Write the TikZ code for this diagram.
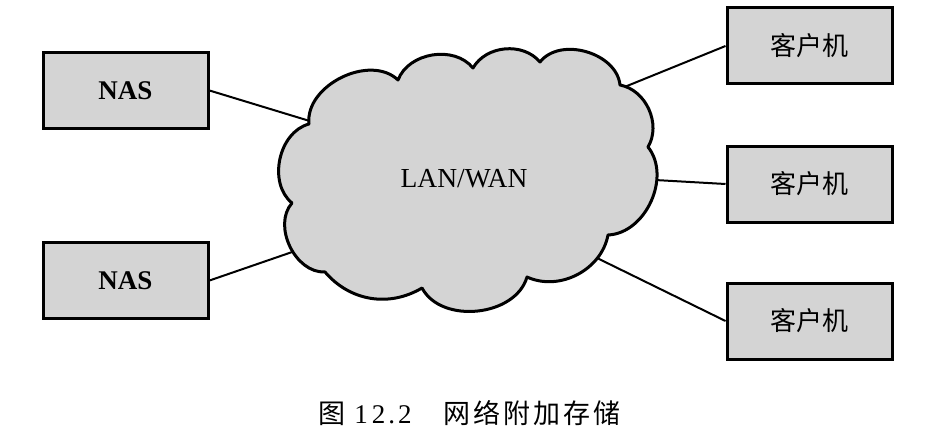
\documentclass[tikz,border=0pt]{standalone}
\usepackage{fontspec}
\setmainfont{Liberation Serif}
\newfontfamily\cjk{Noto Sans CJK SC}
\usetikzlibrary{positioning}

\begin{document}
\begin{tikzpicture}[x=1pt,y=1pt,
  box/.style={draw,line width=3pt,fill=black!17,minimum width=165pt,minimum height=76pt,inner sep=0pt},
  nas/.style={box,font=\fontsize{27}{30}\selectfont\bfseries},
  client/.style={box,font=\fontsize{26}{30}\selectfont\cjk},
  link/.style={line width=2pt},
  cloudline/.style={line width=3pt,line join=round,fill=black!17}]
\useasboundingbox (0,0) rectangle (936,440);
% storage boxes on the left
\node[nas] (nasA) at (125.5,349.5) {NAS};
\node[nas,below=111pt of nasA] (nasB) {NAS};
% client boxes on the right
\node[client] (cliA) at (809.5,394) {客户机};
\node[client,below=59pt of cliA] (cliB) {客户机};
\node[client,below=58pt of cliB] (cliC) {客户机};
% cloud outline, indents
\coordinate (pA) at (309,316);
\coordinate (pB) at (398,360);
\coordinate (pC) at (473,372);
\coordinate (pD) at (540,378);
\coordinate (pE) at (620,355);
\coordinate (pF) at (648,293);
\coordinate (pG) at (608,205);
\coordinate (pH) at (527,163);
\coordinate (pI) at (422,152);
\coordinate (pJ) at (325,168);
\coordinate (pK) at (292,237);
% where the links meet the cloud
\coordinate (inA) at (313,318);
\coordinate (inB) at (298,190);
\coordinate (inC) at (622,352);
\coordinate (inD) at (655,260);
\coordinate (inE) at (597,182);
\draw[link] (nasA.east) -- (inA);
\draw[link] (nasB.east) -- (inB);
\draw[link] (cliA.west) -- (inC);
\draw[link] (cliB.west) -- (inD);
\draw[link] (cliC.west) -- (inE);
\draw[cloudline] (pA) to[bend left=70] (pB) to[bend left=60] (pC)
  to[bend left=55] (pD) to[bend left=68] (pE) to[bend left=55] (pF)
  to[bend left=63] (pG) to[bend left=52] (pH) to[bend left=68] (pI)
  to[bend left=40] (pJ) to[bend left=67] (pK) to[bend left=63] (pA) -- cycle;
\node[font=\fontsize{27.5}{30}\selectfont] (lan) at (464,261) {LAN/WAN};
% caption
\node[font=\fontsize{27}{30}\selectfont] (cap) at (469.5,27)
  {{\cjk 图}\hspace{9pt}1\hspace{4pt}2\hspace{3pt}.\hspace{3pt}2\hspace{32pt}{\cjk 网\hspace{3pt}络\hspace{3pt}附\hspace{3pt}加\hspace{3pt}存\hspace{3pt}储}};
\end{tikzpicture}
\end{document}
